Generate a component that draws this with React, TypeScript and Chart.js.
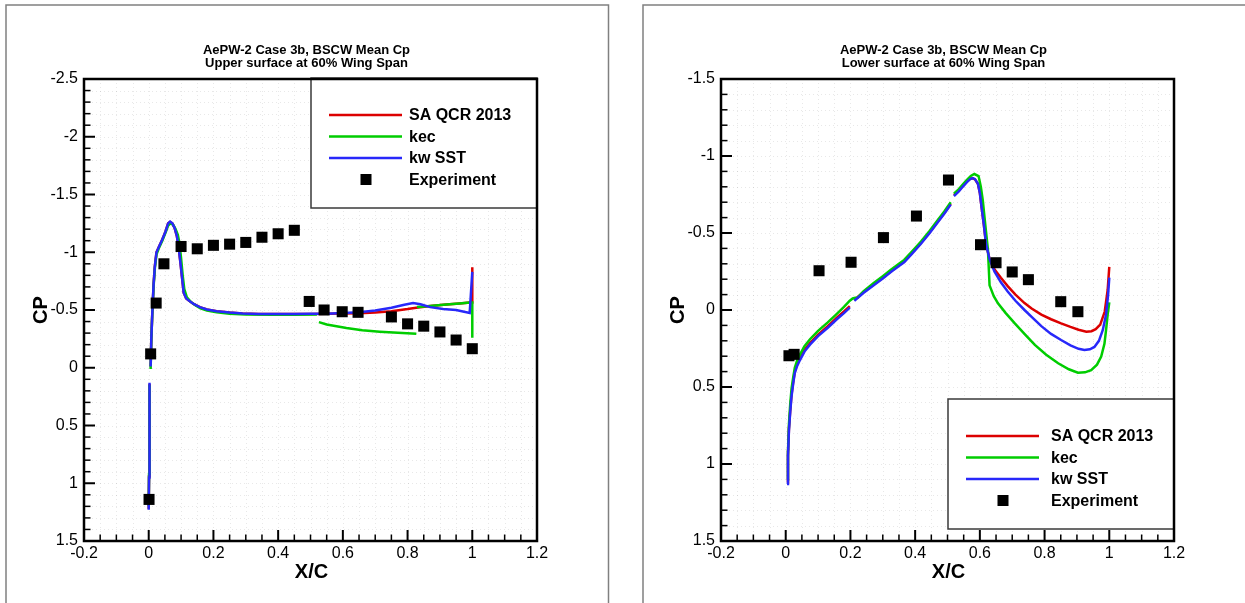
import React, { useEffect, useRef } from "react";
import { Chart, registerables } from "chart.js";

Chart.register(...registerables);

const FONT = '"Liberation Sans", Arial, Helvetica, sans-serif';

// ---------- tick labels ----------
const xTicks = [-0.2, 0, 0.2, 0.4, 0.6, 0.8, 1, 1.2];
const upperYTicks = [-2.5, -2, -1.5, -1, -0.5, 0, 0.5, 1, 1.5];
const lowerYTicks = [-1.5, -1, -0.5, 0, 0.5, 1, 1.5];

// ---------- texts ----------
const seriesLabels = ["SA QCR 2013", "kec", "kw SST", "Experiment"];
const upperTitle = ["AePW-2 Case 3b, BSCW Mean Cp", "Upper surface at 60% Wing Span"];
const lowerTitle = ["AePW-2 Case 3b, BSCW Mean Cp", "Lower surface at 60% Wing Span"];
const xAxisTitle = "X/C";
const yAxisTitle = "CP";

// ---------- upper surface (left panel) ----------
const upperSaX = [0.000, 0.001, 0.002, 0.003, 0.004, 0.006, 0.008, 0.011, 0.015, 0.019, 0.024, 0.032, 0.042, 0.052, 0.060, 0.066, 0.073, 0.080, 0.087, 0.093, 0.098, 0.103, 0.108, 0.116, 0.127, 0.140, 0.158, 0.180, 0.210, 0.250, 0.290, 0.340, 0.400, 0.450, 0.500, 0.550, 0.600, 0.650, 0.700, 0.750, 0.800, 0.827, 0.870, 0.920, 0.960, 0.993, 1.000, 1.000];
const upperSaCp = [1.22, 0.94, 0.54, 0.14, null, -0.01, -0.25, -0.47, -0.72, -0.88, -1.00, -1.05, -1.11, -1.18, -1.25, -1.262, -1.25, -1.21, -1.14, -1.03, -0.91, -0.78, -0.65, -0.60, -0.575, -0.55, -0.525, -0.505, -0.49, -0.478, -0.47, -0.466, -0.465, -0.465, -0.466, -0.468, -0.47, -0.472, -0.478, -0.49, -0.508, -0.52, -0.535, -0.548, -0.557, -0.565, -0.565, -0.87];

const upperKecX = [0.000, 0.001, 0.002, 0.003, 0.004, 0.006, 0.008, 0.011, 0.015, 0.019, 0.024, 0.032, 0.042, 0.052, 0.060, 0.067, 0.075, 0.083, 0.090, 0.095, 0.100, 0.105, 0.110, 0.118, 0.130, 0.145, 0.160, 0.180, 0.210, 0.250, 0.300, 0.380, 0.450, 0.520, 0.523, 0.526, 0.550, 0.611, 0.660, 0.714, 0.770, 0.827, 0.828, 0.829, 0.870, 0.920, 0.960, 0.993, 1.000, 1.000];
const upperKecCp = [1.20, 0.92, 0.52, 0.15, null, 0.01, -0.24, -0.46, -0.70, -0.86, -0.98, -1.04, -1.10, -1.17, -1.23, -1.25, -1.24, -1.20, -1.15, -1.08, -0.95, -0.80, -0.68, -0.61, -0.57, -0.54, -0.515, -0.495, -0.48, -0.468, -0.462, -0.458, -0.458, -0.46, null, -0.395, -0.375, -0.344, -0.325, -0.312, -0.302, -0.295, null, -0.525, -0.535, -0.548, -0.557, -0.565, -0.565, -0.26];

const upperKwX = [0.000, 0.001, 0.002, 0.003, 0.004, 0.006, 0.008, 0.011, 0.015, 0.019, 0.024, 0.032, 0.042, 0.052, 0.060, 0.066, 0.073, 0.080, 0.087, 0.093, 0.098, 0.103, 0.108, 0.116, 0.127, 0.140, 0.158, 0.180, 0.210, 0.250, 0.290, 0.340, 0.400, 0.450, 0.500, 0.550, 0.600, 0.650, 0.700, 0.750, 0.790, 0.817, 0.840, 0.870, 0.910, 0.950, 0.992, 1.000];
const upperKwCp = [1.23, 0.95, 0.55, 0.13, null, -0.01, -0.25, -0.47, -0.72, -0.88, -1.00, -1.05, -1.11, -1.18, -1.25, -1.265, -1.25, -1.21, -1.14, -1.03, -0.91, -0.78, -0.65, -0.60, -0.575, -0.55, -0.525, -0.505, -0.49, -0.478, -0.47, -0.466, -0.465, -0.465, -0.467, -0.468, -0.475, -0.48, -0.495, -0.52, -0.545, -0.56, -0.55, -0.525, -0.508, -0.50, -0.475, -0.83];

const upperExpX = [0.001, 0.006, 0.023, 0.047, 0.10, 0.15, 0.20, 0.25, 0.30, 0.35, 0.40, 0.45, 0.496, 0.542, 0.598, 0.647, 0.75, 0.80, 0.85, 0.90, 0.95, 1.0];
const upperExpCp = [1.14, -0.12, -0.56, -0.90, -1.05, -1.03, -1.06, -1.07, -1.085, -1.13, -1.16, -1.19, -0.574, -0.50, -0.485, -0.48, -0.44, -0.38, -0.36, -0.31, -0.24, -0.165];

// ---------- lower surface (right panel) ----------
const lowerSaX = [0.004, 0.007, 0.010, 0.014, 0.018, 0.023, 0.028, 0.035, 0.044, 0.058, 0.075, 0.100, 0.130, 0.158, 0.180, 0.198, 0.205, 0.212, 0.240, 0.272, 0.300, 0.324, 0.350, 0.366, 0.390, 0.418, 0.445, 0.470, 0.490, 0.510, 0.515, 0.520, 0.535, 0.547, 0.560, 0.570, 0.578, 0.585, 0.594, 0.600, 0.604, 0.612, 0.619, 0.630, 0.645, 0.665, 0.686, 0.710, 0.738, 0.760, 0.790, 0.820, 0.851, 0.880, 0.905, 0.929, 0.945, 0.958, 0.972, 0.986, 0.995, 1.000];
const lowerSaCp = [1.12, 0.94, 0.77, 0.65, 0.55, 0.47, 0.40, 0.355, 0.315, 0.26, 0.215, 0.16, 0.105, 0.05, 0.01, -0.025, null, -0.065, -0.115, -0.165, -0.21, -0.25, -0.29, -0.315, -0.37, -0.435, -0.505, -0.575, -0.63, -0.69, null, -0.745, -0.775, -0.805, -0.835, -0.852, -0.855, -0.848, -0.82, -0.76, -0.69, -0.56, -0.43, -0.33, -0.265, -0.21, -0.155, -0.10, -0.045, -0.01, 0.03, 0.06, 0.087, 0.11, 0.128, 0.141, 0.138, 0.125, 0.095, 0.01, -0.13, -0.28];

const lowerKecX = [0.004, 0.007, 0.010, 0.014, 0.018, 0.023, 0.028, 0.035, 0.044, 0.058, 0.075, 0.100, 0.130, 0.158, 0.180, 0.198, 0.207, 0.215, 0.222, 0.240, 0.272, 0.300, 0.324, 0.350, 0.366, 0.390, 0.418, 0.445, 0.470, 0.490, 0.510, 0.515, 0.520, 0.535, 0.547, 0.560, 0.572, 0.583, 0.596, 0.603, 0.609, 0.617, 0.625, 0.630, 0.643, 0.656, 0.680, 0.708, 0.740, 0.770, 0.805, 0.842, 0.875, 0.903, 0.925, 0.944, 0.962, 0.975, 0.985, 0.990, 0.995, 1.000];
const lowerKecCp = [1.10, 0.92, 0.74, 0.61, 0.51, 0.44, 0.375, 0.33, 0.29, 0.235, 0.19, 0.135, 0.08, 0.025, -0.02, -0.06, -0.075, -0.08, -0.08, -0.12, -0.175, -0.22, -0.26, -0.30, -0.325, -0.38, -0.445, -0.515, -0.585, -0.64, -0.70, null, -0.755, -0.785, -0.815, -0.845, -0.87, -0.883, -0.87, -0.80, -0.714, -0.55, -0.39, -0.16, -0.09, -0.043, 0.02, 0.087, 0.16, 0.227, 0.29, 0.346, 0.385, 0.407, 0.405, 0.39, 0.355, 0.303, 0.22, 0.13, 0.03, -0.05];

const lowerKwX = [0.004, 0.007, 0.010, 0.014, 0.018, 0.023, 0.028, 0.035, 0.044, 0.058, 0.075, 0.100, 0.130, 0.158, 0.180, 0.198, 0.205, 0.212, 0.240, 0.272, 0.300, 0.324, 0.350, 0.366, 0.390, 0.418, 0.445, 0.470, 0.490, 0.510, 0.515, 0.520, 0.535, 0.547, 0.560, 0.570, 0.578, 0.585, 0.594, 0.600, 0.604, 0.612, 0.619, 0.630, 0.645, 0.665, 0.686, 0.710, 0.738, 0.760, 0.790, 0.820, 0.851, 0.880, 0.905, 0.923, 0.940, 0.954, 0.968, 0.980, 0.990, 0.996, 1.000];
const lowerKwCp = [1.13, 0.95, 0.78, 0.66, 0.56, 0.48, 0.41, 0.365, 0.325, 0.27, 0.225, 0.17, 0.115, 0.06, 0.02, -0.015, null, -0.06, -0.11, -0.16, -0.205, -0.245, -0.285, -0.31, -0.365, -0.43, -0.50, -0.57, -0.625, -0.685, null, -0.74, -0.77, -0.80, -0.83, -0.85, -0.857, -0.85, -0.82, -0.76, -0.69, -0.56, -0.43, -0.33, -0.25, -0.18, -0.12, -0.06, 0.0, 0.045, 0.105, 0.155, 0.195, 0.23, 0.252, 0.26, 0.255, 0.24, 0.20, 0.13, 0.03, -0.09, -0.21];

const lowerExpX = [0.010, 0.026, 0.103, 0.202, 0.302, 0.404, 0.503, 0.602, 0.650, 0.700, 0.750, 0.850, 0.903];
const lowerExpCp = [0.297, 0.288, -0.255, -0.31, -0.47, -0.61, -0.844, -0.424, -0.307, -0.247, -0.197, -0.054, 0.011];

// ---------- styles ----------
const RED = "rgb(220,0,0)";
const GREEN = "rgb(0,205,0)";
const BLUE = "rgb(40,40,250)";

type Panel = {
  title: string[];
  yTicks: number[];
  sa: [number[], (number | null)[]];
  kec: [number[], (number | null)[]];
  kw: [number[], (number | null)[]];
  exp: [number[], number[]];
  frameRight: number | null;
  canvasWidth: number;
  legendAtTop: boolean;
  legendTextX: number;
};

const upperPanel: Panel = {
  title: upperTitle,
  yTicks: upperYTicks,
  sa: [upperSaX, upperSaCp],
  kec: [upperKecX, upperKecCp],
  kw: [upperKwX, upperKwCp],
  exp: [upperExpX, upperExpCp],
  frameRight: 608.5,
  canvasWidth: 620,
  legendAtTop: true,
  legendTextX: 98,
};

const lowerPanel: Panel = {
  title: lowerTitle,
  yTicks: lowerYTicks,
  sa: [lowerSaX, lowerSaCp],
  kec: [lowerKecX, lowerKecCp],
  kw: [lowerKwX, lowerKwCp],
  exp: [lowerExpX, lowerExpCp],
  frameRight: null,
  canvasWidth: 608,
  legendAtTop: false,
  legendTextX: 103,
};

const pts = (xs: number[], ys: (number | null)[]) => xs.map((x, i) => ({ x, y: ys[i] }));

function makeDecor(p: Panel) {
  const yMin = p.yTicks[0];
  const yMax = p.yTicks[p.yTicks.length - 1];
  const xMin = xTicks[0];
  const xMax = xTicks[xTicks.length - 1];
  return {
    id: "decor",
    beforeDraw(chart: any) {
      const ctx = chart.ctx;
      ctx.save();
      ctx.fillStyle = "#fff";
      ctx.fillRect(0, 0, chart.width, chart.height);
      ctx.strokeStyle = "#808080";
      ctx.lineWidth = 1.5;
      ctx.beginPath();
      ctx.moveTo(6, chart.height + 5);
      ctx.lineTo(6, 5);
      if (p.frameRight != null) {
        ctx.lineTo(p.frameRight, 5);
        ctx.lineTo(p.frameRight, chart.height + 5);
      } else {
        ctx.lineTo(chart.width + 5, 5);
      }
      ctx.stroke();
      ctx.restore();
    },
    beforeDatasetsDraw(chart: any) {
      const { ctx, chartArea: a, scales } = chart;
      ctx.save();
      ctx.strokeStyle = "rgba(0,0,0,0.09)";
      ctx.lineWidth = 1;
      ctx.setLineDash([1, 3]);
      const nx = Math.round((xMax - xMin) / 0.05);
      for (let i = 1; i < nx; i++) {
        const px = Math.round(scales.x.getPixelForValue(xMin + i * 0.05)) + 0.5;
        ctx.beginPath();
        ctx.moveTo(px, a.top);
        ctx.lineTo(px, a.bottom);
        ctx.stroke();
      }
      const ny = Math.round((yMax - yMin) / 0.1);
      for (let i = 1; i < ny; i++) {
        const py = Math.round(scales.y.getPixelForValue(yMin + i * 0.1)) + 0.5;
        ctx.beginPath();
        ctx.moveTo(a.left, py);
        ctx.lineTo(a.right, py);
        ctx.stroke();
      }
      ctx.restore();
    },
    afterDatasetsDraw(chart: any) {
      const { ctx, chartArea: a, scales } = chart;
      ctx.save();
      // legend
      const lw = 226;
      const lh = 130;
      const bx = a.right - lw;
      const by = p.legendAtTop ? a.top - 1 : a.bottom - 12 - lh;
      ctx.fillStyle = "#fff";
      ctx.fillRect(bx, by, lw, lh);
      ctx.strokeStyle = "#3a3a3a";
      ctx.lineWidth = 1.5;
      ctx.strokeRect(bx, by, lw, lh);
      const rows = [37, 58.5, 80, 101.5];
      const ds = chart.data.datasets;
      for (let i = 0; i < ds.length; i++) {
        const ry = by + rows[i];
        if (ds[i].showLine) {
          ctx.strokeStyle = ds[i].borderColor;
          ctx.lineWidth = 2.5;
          ctx.beginPath();
          ctx.moveTo(bx + 18, ry);
          ctx.lineTo(bx + 91, ry);
          ctx.stroke();
        } else {
          ctx.fillStyle = "#000";
          ctx.fillRect(bx + 55 - 5.5, ry - 5.5, 11, 11);
        }
        ctx.fillStyle = "#000";
        ctx.font = `bold 16px ${FONT}`;
        ctx.textAlign = "left";
        ctx.textBaseline = "middle";
        ctx.fillText(ds[i].label, bx + p.legendTextX, ry + 1);
      }
      // axis box
      ctx.strokeStyle = "#000";
      ctx.lineWidth = 2.5;
      ctx.strokeRect(a.left, a.top, a.right - a.left, a.bottom - a.top);
      // ticks (inward)
      const nx = Math.round((xMax - xMin) / 0.05);
      for (let i = 1; i < nx; i++) {
        const major = i % 4 === 0;
        const px = scales.x.getPixelForValue(xMin + i * 0.05);
        ctx.lineWidth = major ? 2 : 1.5;
        ctx.beginPath();
        ctx.moveTo(px, a.bottom);
        ctx.lineTo(px, a.bottom - (major ? 11 : 6.5));
        ctx.stroke();
      }
      const ny = Math.round((yMax - yMin) / 0.1);
      for (let i = 1; i < ny; i++) {
        const major = i % 5 === 0;
        const py = scales.y.getPixelForValue(yMin + i * 0.1);
        ctx.lineWidth = major ? 2 : 1.5;
        ctx.beginPath();
        ctx.moveTo(a.left, py);
        ctx.lineTo(a.left + (major ? 11 : 6.5), py);
        ctx.stroke();
      }
      // titles
      const cx = (a.left + a.right) / 2;
      ctx.fillStyle = "#000";
      ctx.textAlign = "center";
      ctx.textBaseline = "middle";
      ctx.font = `bold 13px ${FONT}`;
      ctx.fillText(p.title[0], cx - 4, 50);
      ctx.fillText(p.title[1], cx - 4, 63);
      ctx.font = `bold 20px ${FONT}`;
      ctx.fillText(xAxisTitle, cx + 1, 572);
      ctx.translate(41, (a.top + a.bottom) / 2);
      ctx.rotate(-Math.PI / 2);
      ctx.fillText(yAxisTitle, 0, 0);
      ctx.restore();
    },
  };
}

function makeConfig(p: Panel): any {
  const lineDs = (label: string, d: [number[], (number | null)[]], color: string, order: number) => ({
    label,
    data: pts(d[0], d[1]),
    showLine: true,
    spanGaps: false,
    borderColor: color,
    backgroundColor: color,
    borderWidth: 2.5,
    pointRadius: 0,
    order,
  });
  return {
    type: "scatter",
    data: {
      datasets: [
        lineDs(seriesLabels[0], p.sa, RED, 3),
        lineDs(seriesLabels[1], p.kec, GREEN, 2),
        lineDs(seriesLabels[2], p.kw, BLUE, 1),
        {
          label: seriesLabels[3],
          data: pts(p.exp[0], p.exp[1]),
          showLine: false,
          pointStyle: "rect",
          pointRadius: 7.8,
          backgroundColor: "#000",
          borderColor: "#000",
          borderWidth: 0,
          order: 0,
        },
      ],
    },
    options: {
      animation: false,
      responsive: false,
      devicePixelRatio: 1,
      events: [],
      layout: { padding: { top: 79, right: p.canvasWidth - 537, bottom: 32, left: 0 } },
      plugins: { legend: { display: false }, tooltip: { enabled: false }, title: { display: false } },
      scales: {
        x: {
          type: "linear",
          min: xTicks[0],
          max: xTicks[xTicks.length - 1],
          afterBuildTicks: (s: any) => {
            s.ticks = xTicks.map((v) => ({ value: v }));
          },
          afterFit: (s: any) => {
            s.height = 30;
          },
          grid: { display: false, drawTicks: false },
          border: { display: false },
          ticks: {
            padding: 3,
            autoSkip: false,
            maxRotation: 0,
            color: "#000",
            font: { family: FONT, size: 16 },
            callback: (v: any) => String(v),
          },
        },
        y: {
          type: "linear",
          reverse: true,
          min: p.yTicks[0],
          max: p.yTicks[p.yTicks.length - 1],
          afterBuildTicks: (s: any) => {
            s.ticks = p.yTicks.map((v) => ({ value: v }));
          },
          afterFit: (s: any) => {
            s.width = 84;
          },
          grid: { display: false, drawTicks: false },
          border: { display: false },
          ticks: {
            padding: 6,
            autoSkip: false,
            color: "#000",
            font: { family: FONT, size: 16 },
            callback: (v: any) => String(v),
          },
        },
      },
    },
    plugins: [makeDecor(p)],
  };
}

function PanelChart({ panel, left }: { panel: Panel; left: number }) {
  const ref = useRef<HTMLCanvasElement | null>(null);
  useEffect(() => {
    if (!ref.current) return;
    const chart = new Chart(ref.current, makeConfig(panel));
    return () => chart.destroy();
  }, [panel]);
  return (
    <canvas
      ref={ref}
      width={panel.canvasWidth}
      height={603}
      style={{ position: "absolute", left, top: 0, width: panel.canvasWidth, height: 603 }}
    />
  );
}

export default function App() {
  return (
    <div style={{ position: "absolute", left: 0, top: 0, width: 1245, height: 603, overflow: "hidden", background: "#fff" }}>
      <PanelChart panel={upperPanel} left={0} />
      <PanelChart panel={lowerPanel} left={637} />
    </div>
  );
}
